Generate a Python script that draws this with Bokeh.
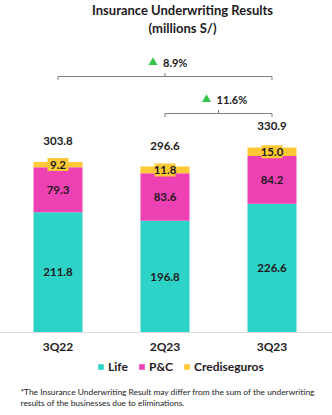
import numpy as np
from bokeh.plotting import figure
from bokeh.models import Range1d, Span, Label, Legend, LegendItem, ColumnDataSource
from bokeh.core.properties import value
from bokeh.embed import file_html
from bokeh.resources import INLINE

# ---- data ----
quarters = ["3Q22", "2Q23", "3Q23"]
life = [211.8, 196.8, 226.6]
pc = [79.3, 83.6, 84.2]
crediseguros = [9.2, 11.8, 15.0]
totals = [303.8, 296.6, 330.9]
series_names = ["Life", "P&C", "Crediseguros"]
growth_from = [0, 1]          # index of start quarter
growth_to = [2, 2]            # index of end quarter
growth_labels = ["8.9%", "11.6%"]

title_lines = ["Insurance Underwriting Results", "(millions S/)"]
footnote_lines = ["*The Insurance Underwriting Result may differ from the sum of the underwriting",
                  "results of the businesses due to eliminations."]

# ---- style ----
C_LIFE = "#2ED3C7"
C_PC = "#EE41B3"
C_CRED = "#FDC935"
TXT = "#1E1A22"
FONT = "Lato"

W, H = 332, 415
px_per_unit = 0.568
base_px = 332          # baseline pixel from top
x0_px, dx_px = 57.5, 107.0

p = figure(width=W, height=H, output_backend="svg", toolbar_location=None,
           min_border=0, outline_line_color=None)
p.x_range = Range1d(-x0_px / dx_px, (W - x0_px) / dx_px)
p.y_range = Range1d(-(H - base_px) / px_per_unit, base_px / px_per_unit)
p.axis.visible = False
p.grid.visible = False
p.background_fill_color = "white"

x = np.arange(len(quarters))
life_a, pc_a, cred_a = map(np.array, (life, pc, crediseguros))
src = ColumnDataSource(dict(x=x, Life=life_a, PC=pc_a, Cred=cred_a))

rs = p.vbar_stack(["Life", "PC", "Cred"], x="x", width=0.458, source=src,
                  color=[C_LIFE, C_PC, C_CRED], line_color=None)

# baseline
p.add_layout(Span(location=0, dimension="width", line_color="#D9D9D9", line_width=1))

# segment labels
lab_font = dict(text_font=value(FONT), text_font_style="bold", text_font_size="11.5px",
                text_color=TXT, text_align="center", text_baseline="middle")
p.text(x=x, y=life_a / 2, text=[f"{v:.1f}" for v in life], **lab_font)
p.text(x=x, y=life_a + pc_a / 2, text=[f"{v:.1f}" for v in pc], **lab_font)
cy = life_a + pc_a + cred_a / 2
p.rect(x=x, y=cy, width=21, height=13, width_units="screen", height_units="screen",
       fill_color=C_CRED, line_color=None)
p.text(x=x, y=cy, text=[f"{v:.1f}" for v in crediseguros], **lab_font)

# totals
tops = life_a + pc_a + cred_a
p.text(x=x, y=tops, y_offset=-21, text=[f"{v:.1f}" for v in totals], **lab_font)

# category labels
p.text(x=x, y=0, y_offset=14, text=quarters, text_font=value(FONT), text_font_style="bold",
       text_font_size="12px", text_color=TXT, text_align="center", text_baseline="middle")

# growth brackets
bracket_px = [76, 113]
for f, t, g, bp in zip(growth_from, growth_to, growth_labels, bracket_px):
    yv = (base_px - bp) / px_per_unit
    tick = 3.5 / px_per_unit
    xs = [f, f, t, t]
    ys = [yv - tick, yv, yv, yv - tick]
    p.line(xs, ys, line_color="#7F7F7F", line_width=1)
    mid = (f + t) / 2
    p.line([mid, mid], [yv, yv + tick], line_color="#7F7F7F", line_width=1)
    ly = yv + 14 / px_per_unit
    p.scatter([mid - 12 / dx_px], [ly], marker="triangle", size=9,
              color="#35C54B", line_color=None)
    p.text([mid], [ly], text=[g], x_offset=-2, text_font=value(FONT), text_font_style="bold",
           text_font_size="11px", text_color=TXT, text_align="left", text_baseline="middle")

# title
for i, (t, y) in enumerate(zip(title_lines, [H - 9, H - 27])):
    p.add_layout(Label(x=182, y=y, x_units="screen", y_units="screen", text=t,
                       text_font=FONT, text_font_style="bold", text_font_size="13px",
                       text_color=TXT, text_align="center", text_baseline="middle"))

# legend
legend = Legend(items=[LegendItem(label=n, renderers=[r]) for n, r in zip(series_names, rs)],
                orientation="horizontal", location=(97, 41), padding=0, margin=0,
                border_line_color=None, background_fill_alpha=0,
                glyph_width=7, glyph_height=7, label_height=12, spacing=10,
                label_standoff=4, label_text_font=FONT, label_text_font_style="bold",
                label_text_font_size="12px", label_text_color=TXT)
p.add_layout(legend)

# footnote
for t, y in zip(footnote_lines, [H - 391, H - 402]):
    p.add_layout(Label(x=20, y=y, x_units="screen", y_units="screen", text=t,
                       text_font=FONT, text_font_size="8.4px", text_color="#222222",
                       text_align="left", text_baseline="middle"))

open("out.html", "w").write(file_html(p, INLINE))
